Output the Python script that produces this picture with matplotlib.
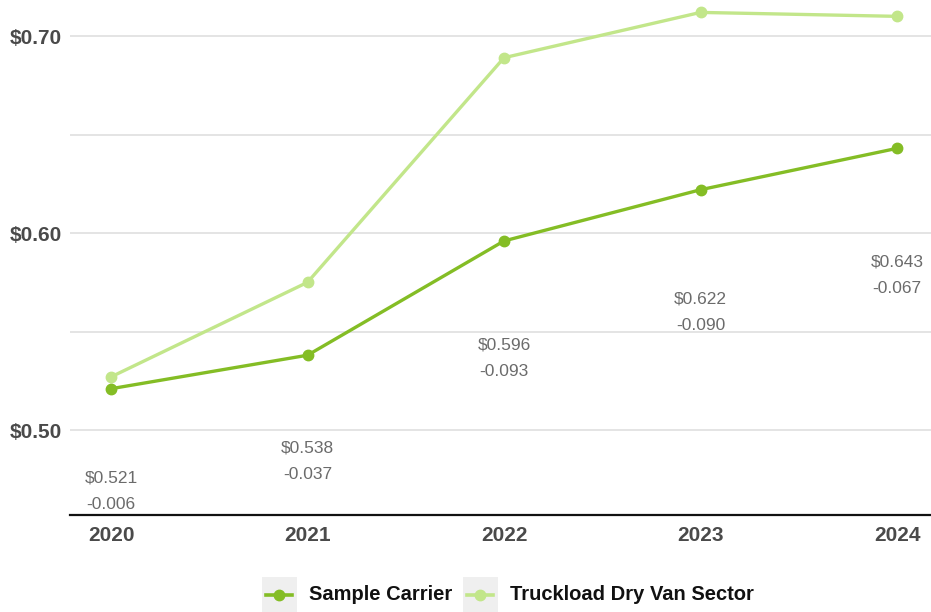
import matplotlib
matplotlib.use("Agg")
import matplotlib.pyplot as plt
from matplotlib.lines import Line2D
from matplotlib.patches import Rectangle

years = [2020, 2021, 2022, 2023, 2024]
carrier = [0.521, 0.538, 0.596, 0.622, 0.643]
difference = [-0.006, -0.037, -0.093, -0.090, -0.067]
sector = [round(c - d, 3) for c, d in zip(carrier, difference)]
series_names = ["Sample Carrier", "Truckload Dry Van Sector"]
ytick_vals = [0.50, 0.60, 0.70]
minor_vals = [0.55, 0.65]

c_dark = "#84bd25"
c_light = "#c2e68a"
plt.rcParams['font.family'] = ['Liberation Sans', 'DejaVu Sans']

W, H = 931, 612
fig = plt.figure(figsize=(W / 100, H / 100), dpi=100)
ax = fig.add_axes([70 / W, 97 / H, 1 - 70 / W, 1 - 97 / H])

ylo, yhi = 0.4569, 0.7183
ax.set_ylim(ylo, yhi)
ax.set_xlim(years[0] - 0.2087, years[-1] + 0.173)

for v in ytick_vals + minor_vals:
    ax.axhline(v, color="#e2e2e2", lw=1.3, zorder=0)

ax.plot(years, sector, color=c_light, lw=2.4, marker="o", ms=7.5, zorder=3)
ax.plot(years, carrier, color=c_dark, lw=2.4, marker="o", ms=7.5, zorder=4)

for x, c, d in zip(years, carrier, difference):
    fp = (c - ylo) / (yhi - ylo)
    fl = 0.9 * fp - 0.175
    ax.text(x, fl, f"${c:.3f}\n{d:.3f}", transform=ax.get_xaxis_transform(),
            ha="center", va="center", fontsize=12.5, color="#6b6b6b", linespacing=1.95)

ax.set_yticks(ytick_vals)
ax.set_yticklabels([f"${v:.2f}" for v in ytick_vals], fontsize=15, fontweight="bold", color="#4a4a4a")
ax.set_xticks(years)
ax.set_xticklabels([str(y) for y in years], fontsize=15, fontweight="bold", color="#4a4a4a")
ax.tick_params(axis="y", length=0, pad=6)
ax.tick_params(axis="x", length=0, pad=8)
for s in ["top", "right", "left"]:
    ax.spines[s].set_visible(False)
ax.spines["bottom"].set_color("#111111")
ax.spines["bottom"].set_linewidth(1.6)

# legend
def fx(px):
    return px / W

def fy(py):
    return 1 - py / H

for bx, tx, col, name in [(262, 309, c_dark, series_names[0]), (463, 510, c_light, series_names[1])]:
    fig.add_artist(Rectangle((fx(bx), fy(612)), fx(35), 35 / H, transform=fig.transFigure,
                             facecolor="#efefef", edgecolor="none"))
    fig.add_artist(Line2D([fx(bx + 4), fx(bx + 30)], [fy(595), fy(595)], transform=fig.transFigure,
                          color=col, lw=2.6))
    fig.add_artist(Line2D([fx(bx + 17)], [fy(595)], transform=fig.transFigure,
                          color=col, marker="o", ms=7.5))
    fig.text(fx(tx), fy(595), name, fontsize=14.5, fontweight="bold", color="#111111",
             ha="left", va="center")

fig.savefig("out.png", dpi=100, facecolor="white")
